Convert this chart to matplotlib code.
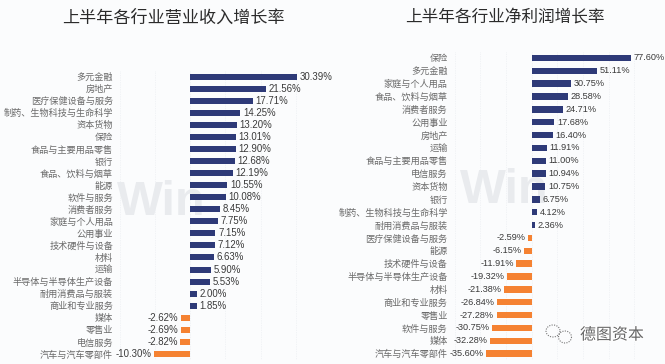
import matplotlib
matplotlib.use('Agg')
import matplotlib.pyplot as plt
import matplotlib.patheffects as pe
from matplotlib.patches import Arc

W, H = 665, 364

left_title = '上半年各行业营业收入增长率'
left_labels = ['多元金融', '房地产', '医疗保健设备与服务', '制药、生物科技与生命科学', '资本货物', '保险',
               '食品与主要用品零售', '银行', '食品、饮料与烟草', '能源', '软件与服务', '消费者服务',
               '家庭与个人用品', '公用事业', '技术硬件与设备', '材料', '运输', '半导体与半导体生产设备',
               '耐用消费品与服装', '商业和专业服务', '媒体', '零售业', '电信服务', '汽车与汽车零部件']
left_values = [30.39, 21.56, 17.71, 14.25, 13.20, 13.01, 12.90, 12.68, 12.19, 10.55, 10.08, 8.45,
               7.75, 7.15, 7.12, 6.63, 5.90, 5.53, 2.00, 1.85, -2.62, -2.69, -2.82, -10.30]

right_title = '上半年各行业净利润增长率'
right_labels = ['保险', '多元金融', '家庭与个人用品', '食品、饮料与烟草', '消费者服务', '公用事业', '房地产',
                '运输', '食品与主要用品零售', '电信服务', '资本货物', '银行', '制药、生物科技与生命科学',
                '耐用消费品与服装', '医疗保健设备与服务', '能源', '技术硬件与设备', '半导体与半导体生产设备',
                '材料', '商业和专业服务', '零售业', '软件与服务', '媒体', '汽车与汽车零部件']
right_values = [77.60, 51.11, 30.75, 28.58, 24.71, 17.68, 16.40, 11.91, 11.00, 10.94, 10.75, 6.75,
                4.12, 2.36, -2.59, -6.15, -11.91, -19.32, -21.38, -26.84, -27.28, -30.75, -32.28, -35.60]

NAVY = '#2e3a78'
ORANGE = '#f58232'
CJK = ['Noto Sans CJK SC', 'DejaVu Sans']
plt.rcParams['font.family'] = ['Liberation Sans', 'Noto Sans CJK SC', 'DejaVu Sans']

fig = plt.figure(figsize=(W / 100, H / 100), dpi=100, facecolor='#fbfcfd')


def px_axes(x0, x1, y0, y1):
    # y measured from the top of the image
    ax = fig.add_axes([x0 / W, 1 - y1 / H, (x1 - x0) / W, (y1 - y0) / H])
    ax.set_zorder(2)
    return ax


def draw_panel(ax, labels, values, xlim, step, bar_h, label_size, value_size):
    ypos = list(range(len(values)))
    colors = [NAVY if v >= 0 else ORANGE for v in values]
    bars = ax.barh(ypos, values, height=bar_h, color=colors, zorder=3)
    ax.bar_label(bars, labels=[f'{v:.2f}%' for v in values], padding=1.8,
                 fontsize=value_size, color='#3a3a3a', zorder=4)
    ax.set_xlim(*xlim)
    ax.set_ylim(len(values) - 0.5, -0.5)
    ax.set_yticks(ypos, labels)
    ax.set_xticks(range(xlim[0], xlim[1] + 1, step))
    ax.tick_params(axis='y', length=0, pad=5, labelsize=label_size, labelcolor='#6a6a6a')
    ax.tick_params(axis='x', length=0, labelbottom=False)
    ax.grid(axis='x', color='#e8ebef', linewidth=0.5, linestyle=(0, (1, 1.5)), zorder=0)
    ax.set_facecolor('none')
    for s in ax.spines.values():
        s.set_visible(False)


# left panel: zero at 190 px, 3.515 px per percent
ax1 = px_axes(120, 331, 70.5, 360)
draw_panel(ax1, left_labels, left_values, (-20, 40), 10, 0.5, 6.6, 6.9)

# right panel: zero at 531.7 px, 1.284 px per percent
ax2 = px_axes(454.7, 660, 51.5, 360)
draw_panel(ax2, right_labels, right_values, (-60, 100), 20, 0.5, 6.6, 6.6)

fig.text(173 / W, 1 - 17.5 / H, left_title, ha='center', va='center', fontsize=12.3, color='#2b2b2b', family=CJK)
fig.text(505 / W, 1 - 17.5 / H, right_title, ha='center', va='center', fontsize=12, color='#2b2b2b', family=CJK)

# Wind watermarks, behind the panels
fig.text(117 / W, 1 - 215 / H, 'Win', ha='left', va='baseline', fontsize=35, fontweight='bold',
         color='#e9ebee', zorder=1)
fig.text(460 / W, 1 - 203 / H, 'Win', ha='left', va='baseline', fontsize=35, fontweight='bold',
         color='#e9ebee', zorder=1)

# account badge at the lower right
over = fig.add_axes([0, 0, 1, 1], facecolor='none')
over.set_zorder(3)
over.set_xlim(0, W)
over.set_ylim(H, 0)
over.axis('off')
over.text(612, 335, '德图资本', ha='center', va='center', fontsize=11.5, color='#666666', family=CJK,
          path_effects=[pe.withStroke(linewidth=1.5, foreground='white')])
over.add_patch(Arc((553, 331), 14, 12, color='#777777', lw=0.8, ls=(0, (1, 1.2))))
over.add_patch(Arc((565, 337), 13, 12, color='#777777', lw=0.8, ls=(0, (1, 1.2))))

fig.savefig('out.png', dpi=100, facecolor=fig.get_facecolor())
